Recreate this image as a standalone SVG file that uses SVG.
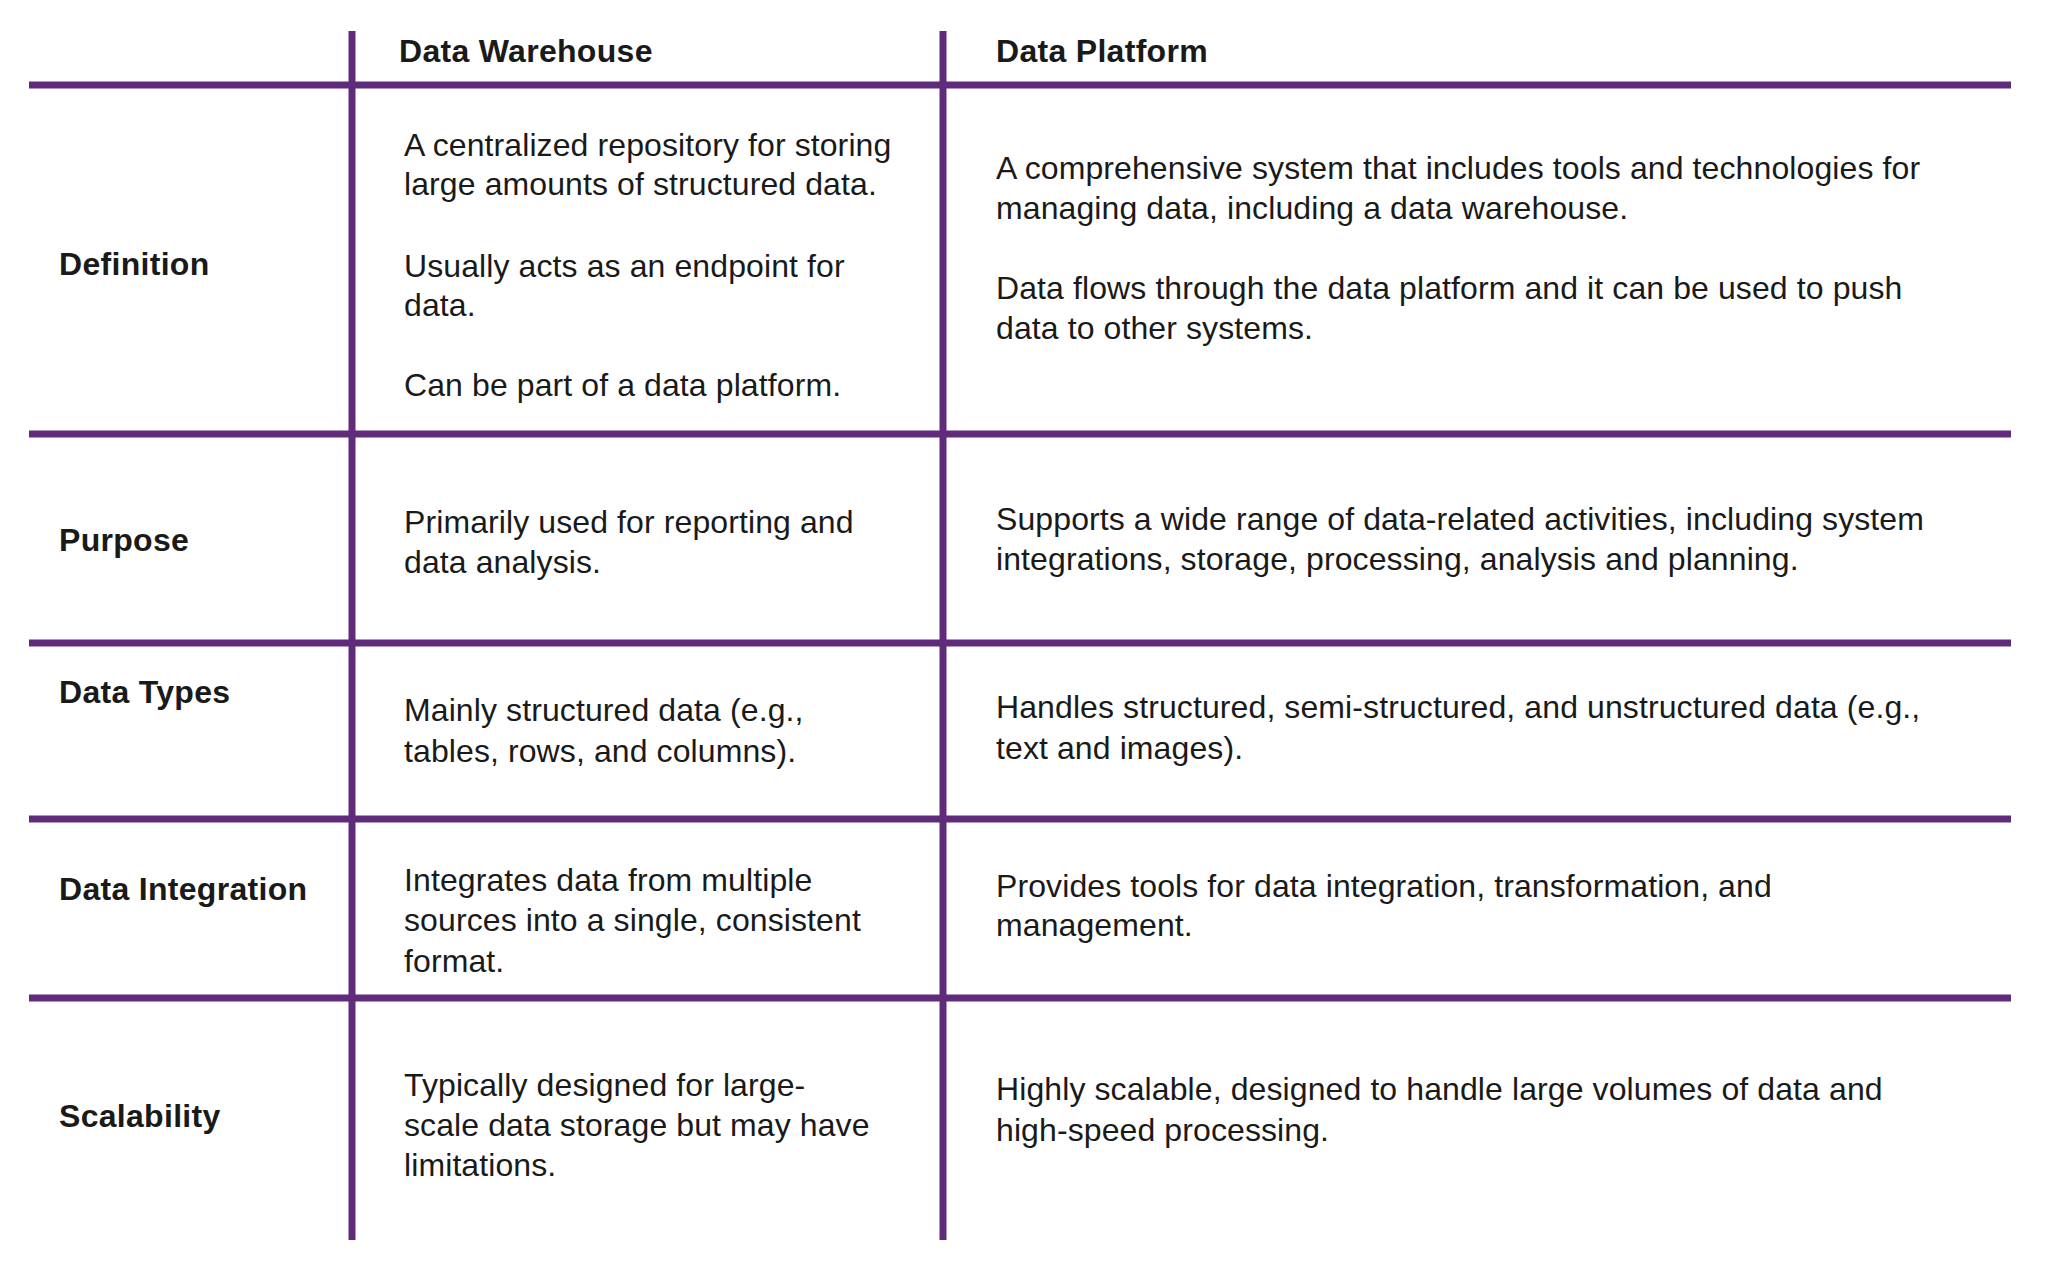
<svg xmlns="http://www.w3.org/2000/svg" width="2056" height="1272" viewBox="0 0 2056 1272">
<style>
.l{stroke:#612b7c;stroke-width:7}
text{font-family:"Liberation Sans",Arial,sans-serif;fill:#1a1a1a}
.h{font-size:32px;font-weight:bold;letter-spacing:0.3px}
.t{font-size:32px;letter-spacing:0.1px}
</style>
<rect width="2056" height="1272" fill="#fff"/>
<g id="grid">
<line class="l" x1="352" y1="31" x2="352" y2="1240"/>
<line class="l" x1="943" y1="31" x2="943" y2="1240"/>
<line class="l" x1="29" y1="85" x2="2011" y2="85"/>
<line class="l" x1="29" y1="434" x2="2011" y2="434"/>
<line class="l" x1="29" y1="643" x2="2011" y2="643"/>
<line class="l" x1="29" y1="819" x2="2011" y2="819"/>
<line class="l" x1="29" y1="998" x2="2011" y2="998"/>
</g>
<g id="header">
<text class="h" x="399" y="62">Data Warehouse</text>
<text class="h" x="996" y="62">Data Platform</text>
</g>
<g id="definition">
<text class="h" x="59" y="275">Definition</text>
<text class="t" x="404" y="156">A centralized repository for storing</text>
<text class="t" x="404" y="195">large amounts of structured data.</text>
<text class="t" x="404" y="277">Usually acts as an endpoint for</text>
<text class="t" x="404" y="316">data.</text>
<text class="t" x="404" y="396">Can be part of a data platform.</text>
<text class="t" x="996" y="179">A comprehensive system that includes tools and technologies for</text>
<text class="t" x="996" y="219">managing data, including a data warehouse.</text>
<text class="t" x="996" y="299">Data flows through the data platform and it can be used to push</text>
<text class="t" x="996" y="339">data to other systems.</text>
</g>
<g id="purpose">
<text class="h" x="59" y="551">Purpose</text>
<text class="t" x="404" y="533">Primarily used for reporting and</text>
<text class="t" x="404" y="573">data analysis.</text>
<text class="t" x="996" y="530">Supports a wide range of data-related activities, including system</text>
<text class="t" x="996" y="570">integrations, storage, processing, analysis and planning.</text>
</g>
<g id="datatypes">
<text class="h" x="59" y="703">Data Types</text>
<text class="t" x="404" y="721">Mainly structured data (e.g.,</text>
<text class="t" x="404" y="762">tables, rows, and columns).</text>
<text class="t" x="996" y="718">Handles structured, semi-structured, and unstructured data (e.g.,</text>
<text class="t" x="996" y="759">text and images).</text>
</g>
<g id="integration">
<text class="h" x="59" y="900">Data Integration</text>
<text class="t" x="404" y="891">Integrates data from multiple</text>
<text class="t" x="404" y="931">sources into a single, consistent</text>
<text class="t" x="404" y="972">format.</text>
<text class="t" x="996" y="897">Provides tools for data integration, transformation, and</text>
<text class="t" x="996" y="936">management.</text>
</g>
<g id="scalability">
<text class="h" x="59" y="1127">Scalability</text>
<text class="t" x="404" y="1096">Typically designed for large-</text>
<text class="t" x="404" y="1136">scale data storage but may have</text>
<text class="t" x="404" y="1176">limitations.</text>
<text class="t" x="996" y="1100">Highly scalable, designed to handle large volumes of data and</text>
<text class="t" x="996" y="1141">high-speed processing.</text>
</g>
</svg>
